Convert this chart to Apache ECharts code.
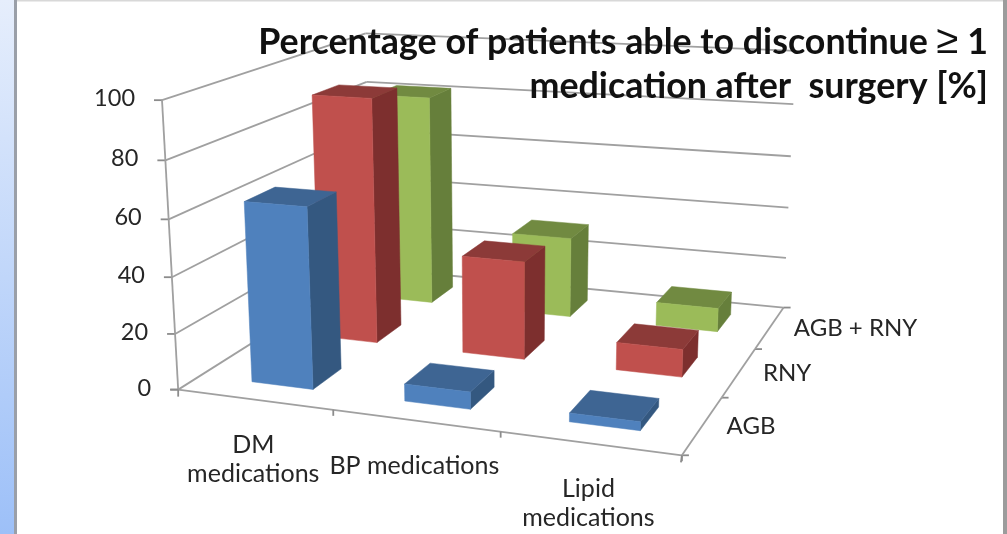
<!DOCTYPE html>
<html><head><meta charset="utf-8">
<style>html,body{margin:0;padding:0;background:#fff}#c{width:1007px;height:534px}</style>
<script src="https://cdn.jsdelivr.net/npm/echarts@6/dist/echarts.min.js"></script>
</head><body><div id="c"></div>
<script>
var categories = ['DM\nmedications', 'BP medications', 'Lipid\nmedications'];
var rows = ['AGB', 'RNY', 'AGB + RNY'];
var valuesAGB = [64, 6, 3];
var valuesRNY = [91, 36, 10];
var valuesBoth = [82, 31, 9];
var yTicks = [0, 20, 40, 60, 80, 100];
var titleLine1 = 'Percentage of patients able to discontinue ';
var titleSymbol = '\u2265';
var titleLine1End = ' 1';
var titleLine2 = 'medication after  surgery [%]';

var FONT = 'Lato, "Open Sans", sans-serif';
var frameCorners = [
  [0,0,0,178,392],[1,0,0,680,456],[0,0,1,372,267],[1,0,1,784,306],
  [0,1,0,164,97],[0,1,1,363,35],[1,1,1,797,52]
];
var BAR_U = 0.40, BAR_W = 0.42, BAR_SHIFT = 0.018, BAR_SHIFT_SLOPE = 0.02;
var colours = {
  AGB: ['#4F81BD','#3E6593','#345880'],
  RNY: ['#C0504D','#8C3A38','#7D2F2E'],
  'AGB + RNY': ['#9BBB59','#718A41','#667F3B']
};

function solve(A,b){var n=b.length;for(var i=0;i<n;i++){var m=i;for(var r=i+1;r<n;r++)if(Math.abs(A[r][i])>Math.abs(A[m][i]))m=r;
  var t=A[i];A[i]=A[m];A[m]=t;t=b[i];b[i]=b[m];b[m]=t;
  for(r=i+1;r<n;r++){var f=A[r][i]/A[i][i];for(var c=i;c<n;c++)A[r][c]-=f*A[i][c];b[r]-=f*b[i];}}
  var x=[];for(i=n-1;i>=0;i--){var s=b[i];for(c=i+1;c<n;c++)s-=A[i][c]*x[c];x[i]=s/A[i][i];}return x;}
var P=(function(){var N=[],B=[],i,j;for(i=0;i<11;i++){N.push(new Array(11).fill(0));B.push(0);}
  function add(row,val){for(var a=0;a<11;a++){for(var c=0;c<11;c++)N[a][c]+=row[a]*row[c];B[a]+=row[a]*val;}}
  frameCorners.forEach(function(k){var u=k[0],v=k[1],w=k[2],X=k[3],Y=k[4];
    add([u,v,w,1,0,0,0,0,-X*u,-X*v,-X*w],X);add([0,0,0,0,u,v,w,1,-Y*u,-Y*v,-Y*w],Y);});
  return solve(N,B);})();
function proj(u,v,w){var d=P[8]*u+P[9]*v+P[10]*w+1;return [(P[0]*u+P[1]*v+P[2]*w+P[3])/d,(P[4]*u+P[5]*v+P[6]*w+P[7])/d];}
function uOf(p,x){var c=p.coordSys;return (x-c.x)/c.width;}
function vOf(p,y){var c=p.coordSys;return 1-(y-c.y)/c.height;}
function line(a,b,col,wd){return {type:'line',shape:{x1:a[0],y1:a[1],x2:b[0],y2:b[1]},style:{stroke:col||'#A0A0A0',lineWidth:wd||1.8}};}
function txt(s,x,y,al,va,fs){return {type:'text',style:{text:s,x:x,y:y,align:al,verticalAlign:va,fill:'#262626',fontFamily:FONT,fontSize:fs||25,lineHeight:29}};}

function renderWall(p,api){
  var v=vOf(p,api.coord([0,api.value(1)])[1]);
  var a=proj(0,v,0),b=proj(0,v,1),c=proj(1,v,1);
  return {type:'group',children:[line(a,b),line(b,c),line(a,[a[0]-8,a[1]],'#8C8C8C'),
    txt(String(api.value(1)),a[0]-27,a[1]-1.5,'right','middle',23.5)]};
}
function renderCat(p,api){
  var uc=uOf(p,api.coord([api.value(0),0])[0]);
  var i=api.value(0);
  var m=proj(uc,0,0);
  var e=proj(uc+1/6,0,0);
  return {type:'group',children:[line(e,[e[0],e[1]+6],'#8C8C8C'),txt(categories[i],m[0]-1,m[1]+31,'center','top')]};
}
function renderDepth(p,api){
  var i=api.value(0), a=proj(1,0,i/3), b=proj(1,0,(i+1)/3), m=proj(1,0,(i+.5)/3);
  return {type:'group',children:[line(a,b),line(b,[b[0]+7,b[1]],'#8C8C8C'),txt(rows[i],m[0]+24,m[1]+1,'left','middle',24)]};
}
function renderAxes(p){
  var o=proj(0,0,0),r=proj(1,0,0);
  return {type:'group',children:[line(o,proj(0,1,0)),line(o,r),
    line(o,[o[0],o[1]+7],'#8C8C8C'),line(r,[r[0]-1,r[1]+7],'#8C8C8C'),
    line(r,[r[0]+7,r[1]],'#8C8C8C'),line(o,[o[0]-8,o[1]],'#8C8C8C')]};
}
function barRenderer(rowIdx){
  return function(p,api){
    var pt=api.coord([api.value(0),api.value(1)]);
    var u=uOf(p,pt[0]);
    var uc=u+BAR_SHIFT-BAR_SHIFT_SLOPE*u, v=vOf(p,pt[1]), wc=(rowIdx+.5)/3;
    var u0=uc-BAR_U/6,u1=uc+BAR_U/6,w0=wc-BAR_W/6,w1=wc+BAR_W/6;
    var col=colours[rows[rowIdx]];
    function poly(pts,c){return {type:'polygon',shape:{points:pts},style:{fill:c,stroke:c,lineWidth:.5}};}
    return {type:'group',children:[
      poly([proj(u1,0,w0),proj(u1,0,w1),proj(u1,v,w1),proj(u1,v,w0)],col[2]),
      poly([proj(u0,v,w0),proj(u1,v,w0),proj(u1,v,w1),proj(u0,v,w1)],col[1]),
      poly([proj(u0,0,w0),proj(u1,0,w0),proj(u1,v,w0),proj(u0,v,w0)],col[0])
    ]};
  };
}
function pairs(arr){return arr.map(function(y,i){return [i,y];});}
var base={type:'custom',silent:true,animation:false,clip:false};
function S(o){return Object.assign({},base,o);}

var chart=echarts.init(document.getElementById('c'),null,{renderer:'canvas'});
chart.setOption({
  animation:false,
  backgroundColor:'#fff',
  grid:{show:false,left:0,top:0,width:1007,height:534},
  xAxis:{type:'category',data:categories,show:false},
  yAxis:{type:'value',min:0,max:100,interval:20,show:false},
  graphic:[
    {type:'rect',z:1,shape:{x:0,y:0,width:14,height:534},style:{fill:new echarts.graphic.LinearGradient(0,0,0,1,[{offset:0,color:'#E6EEFC'},{offset:1,color:'#9DC0F8'}])}},
    {type:'rect',z:1,shape:{x:14,y:0,width:3,height:534},style:{fill:'#9A9FA8'}},
    {type:'rect',z:1,shape:{x:17,y:0,width:990,height:1.5},style:{fill:'#D8D8D8'}},
    {type:'rect',z:1,shape:{x:1003,y:0,width:4,height:534},style:{fill:'#9C9C9C'}},
    {type:'text',z:20,x:988,y:20,style:{
      text:titleLine1+'{ge|'+titleSymbol+'}'+titleLine1End+'\n'+titleLine2,
      align:'right',verticalAlign:'top',fill:'#111',fontFamily:FONT,fontWeight:'bold',fontSize:35.8,lineHeight:44,
      rich:{ge:{fontSize:40,fontFamily:'"Liberation Sans", sans-serif',fontWeight:'normal',fill:'#111',lineHeight:44}}
    }}
  ],
  series:[
    S({renderItem:renderWall,data:yTicks.map(function(t){return [0,t];}),z:2}),
    S({renderItem:renderAxes,data:[[0,0]],z:2}),
    S({renderItem:renderCat,data:pairs([0,0,0]),z:2}),
    S({renderItem:renderDepth,data:pairs([0,0,0]),z:2}),
    S({name:rows[2],renderItem:barRenderer(2),data:pairs(valuesBoth),z:3}),
    S({name:rows[1],renderItem:barRenderer(1),data:pairs(valuesRNY),z:4}),
    S({name:rows[0],renderItem:barRenderer(0),data:pairs(valuesAGB),z:5})
  ]
});
</script></body></html>
